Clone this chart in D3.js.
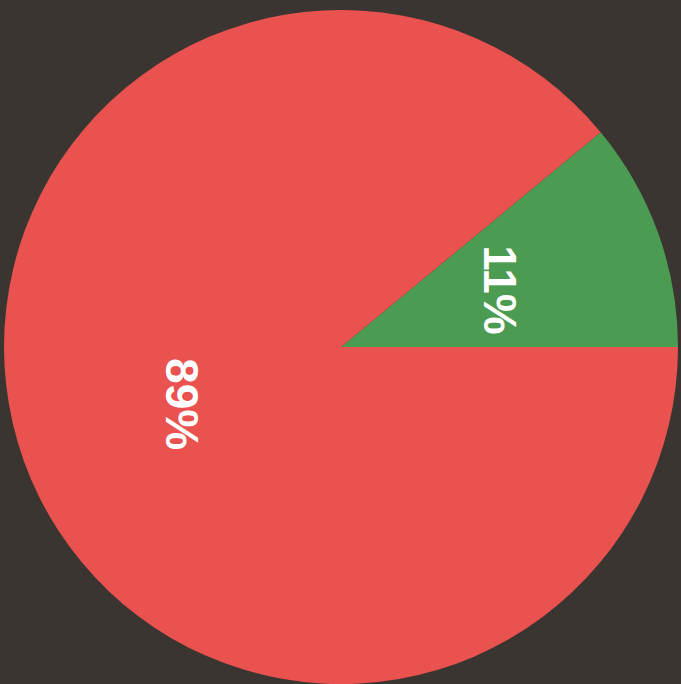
<!DOCTYPE html>
<html>
<head>
<meta charset="utf-8">
<script src="https://cdn.jsdelivr.net/npm/d3@7"></script>
<style>
  html, body { margin: 0; padding: 0; background: #3b3532; overflow: hidden; }
</style>
</head>
<body>
<div id="chart"></div>
<script>
const width = 681, height = 684;

// data
const labels = ["11%", "89%"];
const values = [11, 89];
const colors = ["#4c9b52", "#e9524f"];

const cx = 341, cy = 347, radius = 337;

const svg = d3.select("#chart")
    .append("svg")
    .attr("width", width)
    .attr("height", height);

svg.append("rect")
    .attr("width", width)
    .attr("height", height)
    .attr("fill", "#3b3532");

const g = svg.append("g")
    .attr("transform", `translate(${cx}, ${cy})`);

// green slice ends at 3 o'clock, going clockwise
const start = Math.PI / 2 - (values[0] / d3.sum(values)) * 2 * Math.PI;
const pie = d3.pie()
    .sort(null)
    .startAngle(start)
    .endAngle(start + 2 * Math.PI)
    .value(d => d);

const arc = d3.arc().innerRadius(0).outerRadius(radius);

const arcs = pie(values);

g.selectAll("path")
    .data(arcs)
    .join("path")
    .attr("d", arc)
    .attr("fill", (d, i) => colors[i]);

// labels, rotated 90deg
g.selectAll("text")
    .data(arcs)
    .join("text")
    .attr("transform", d => {
        const [x, y] = arc.centroid(d);
        return `translate(${x}, ${y}) rotate(90)`;
    })
    .attr("text-anchor", "middle")
    .attr("dominant-baseline", "central")
    .attr("fill", "#ffffff")
    .attr("font-family", "'Liberation Sans', Arial, sans-serif")
    .attr("font-weight", "bold")
    .attr("font-size", 46)
    .text((d, i) => labels[i]);
</script>
</body>
</html>
